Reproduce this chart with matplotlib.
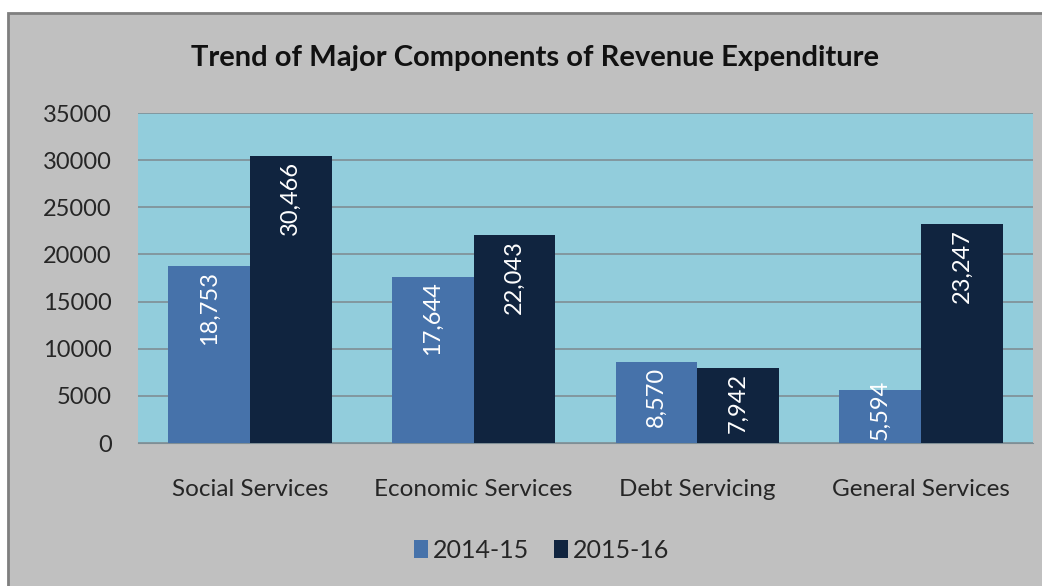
import matplotlib.pyplot as plt
import numpy as np
from matplotlib.patches import Rectangle

# Dados
categorias = ['Social Services', 'Economic Services', 'Debt Servicing', 'General Services']
anos = ['2014-15', '2015-16']
valores_2014 = [18753, 17644, 8570, 5594]
valores_2015 = [30466, 22043, 7942, 23247]
yticks = [0, 5000, 10000, 15000, 20000, 25000, 30000, 35000]

cores = ['#4672AA', '#10243F']

plt.rcParams['font.family'] = ['Lato', 'DejaVu Sans']

fig = plt.figure(figsize=(10.42, 5.86), dpi=100)
fig.patch.set_facecolor('white')

# Fundo cinza com borda (área do gráfico)
fig.patches.append(Rectangle((8 / 1042, -0.01), 1.02, (586 - 13) / 586 + 0.01,
                             transform=fig.transFigure, facecolor='#C0C0C0',
                             edgecolor='#7F7F7F', linewidth=2, zorder=-10))

ax = fig.add_axes([138 / 1042, 1 - 443 / 586, (1033 - 138) / 1042, 330 / 586])
ax.set_facecolor('#92CDDC')

x = np.arange(len(categorias))
largura = 0.365
barras1 = ax.bar(x - largura / 2, valores_2014, largura, color=cores[0], label=anos[0], zorder=3)
barras2 = ax.bar(x + largura / 2, valores_2015, largura, color=cores[1], label=anos[1], zorder=3)

ax.set_xlim(-0.5, len(categorias) - 0.5)
ax.set_ylim(0, 35000)
ax.set_yticks(yticks)
ax.set_yticklabels([str(v) for v in yticks])
ax.set_xticks(x)
ax.set_xticklabels(categorias)
ax.tick_params(axis='both', length=0, colors='#262626')
ax.tick_params(axis='x', pad=26, labelsize=17.5)
ax.tick_params(axis='y', pad=19, labelsize=17)
ax.yaxis.grid(True, color='#7F8E95', linewidth=1.2, zorder=1)
ax.set_axisbelow(True)
for lado in ['top', 'right', 'left']:
    ax.spines[lado].set_visible(False)
ax.spines['bottom'].set_color('#7F8E95')

# Rótulos dos valores (dentro da barra, no topo; se não couber, encostado na base)
fig.canvas.draw()
renderer = fig.canvas.get_renderer()
for barras in [barras1, barras2]:
    for b in barras:
        v = b.get_height()
        cx = b.get_x() + b.get_width() / 2
        t = ax.text(cx, v, f'{v:,.0f}', rotation=90, ha='center', va='top',
                    color='white', fontsize=17, zorder=4)
        h_px = t.get_window_extent(renderer).height
        topo_px = ax.transData.transform((0, v))[1] - 5
        base_px = ax.transData.transform((0, 0))[1]
        if topo_px - h_px < base_px + 3:
            t.set_va('bottom')
            t.set_y(ax.transData.inverted().transform((0, base_px + 3))[1])
        else:
            t.set_y(ax.transData.inverted().transform((0, topo_px))[1])

fig.text(535 / 1042, 1 - 58 / 586, 'Trend of Major Components of Revenue Expenditure',
         ha='center', va='center', fontsize=21, fontweight='bold', color='#111111')

leg = fig.legend(loc='center', bbox_to_anchor=(542 / 1042, 1 - 550 / 586), ncol=2, frameon=False,
                 fontsize=18, handlelength=0.55, handleheight=0.75, handletextpad=0.2,
                 columnspacing=1.0)
for txt in leg.get_texts():
    txt.set_color('#262626')

fig.savefig('out.png', dpi=100, facecolor=fig.get_facecolor())
